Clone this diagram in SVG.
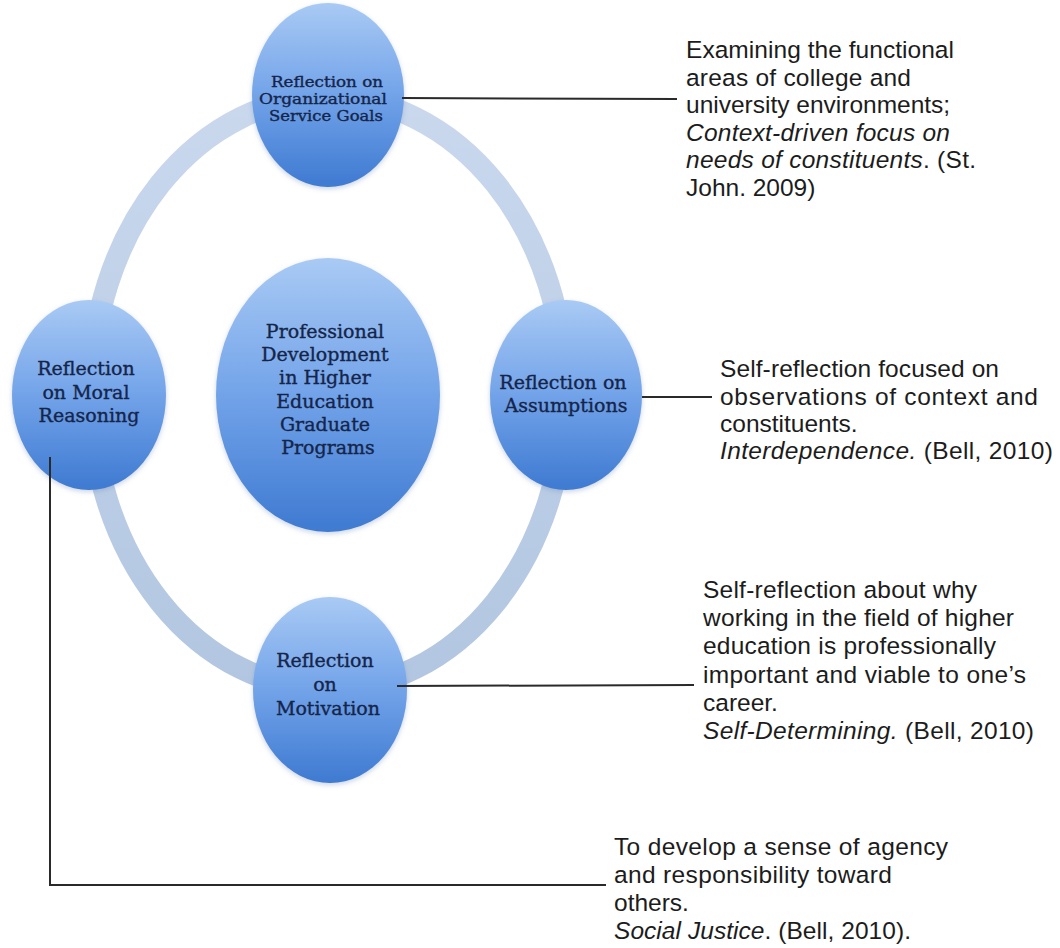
<svg xmlns="http://www.w3.org/2000/svg" width="1060" height="948" viewBox="0 0 1060 948">
  <defs>
    <linearGradient id="bubble" x1="0" y1="0" x2="0" y2="1">
      <stop offset="0" stop-color="#a9caf4"/>
      <stop offset="0.5" stop-color="#72a3e9"/>
      <stop offset="1" stop-color="#3e7ad1"/>
    </linearGradient>
    <linearGradient id="ringFill" x1="0" y1="0" x2="0" y2="1">
      <stop offset="0" stop-color="#c9d8ed"/>
      <stop offset="1" stop-color="#b2c6e1"/>
    </linearGradient>
    <filter id="soft" x="-10%" y="-10%" width="120%" height="120%">
      <feGaussianBlur in="SourceAlpha" stdDeviation="2.5"/>
      <feOffset dy="1.5" result="b"/>
      <feFlood flood-color="#6a86b0" flood-opacity="0.35"/>
      <feComposite in2="b" operator="in"/>
      <feMerge><feMergeNode/><feMergeNode in="SourceGraphic"/></feMerge>
    </filter>
  </defs>
  <style>
    .node ellipse { fill: url(#bubble); filter: url(#soft); }
    .label { font-family: "DejaVu Serif", "Liberation Serif", serif; fill: #15254a; stroke: #15254a; stroke-width: 0.35; text-anchor: middle; }
    .note { font-family: "Liberation Sans", Arial, sans-serif; font-size: 24.5px; fill: #1c1c1c; }
    .note .it { font-style: italic; }
    .link { fill: none; stroke: #2a2a2a; stroke-width: 2; }
  </style>

  <rect width="1060" height="948" fill="#ffffff"/>

  <!-- cycle ring behind the bubbles -->
  <ellipse id="ring" cx="328" cy="393" rx="237" ry="296" fill="none" stroke="url(#ringFill)" stroke-width="22"/>

  <g id="node-center" class="node">
    <ellipse cx="328" cy="395" rx="112" ry="137"/>
    <text class="label" font-size="19">
      <tspan x="328" y="338">Professional</tspan>
      <tspan x="328" y="361">Development</tspan>
      <tspan x="328" y="384">in Higher</tspan>
      <tspan x="328" y="408">Education</tspan>
      <tspan x="328" y="431">Graduate</tspan>
      <tspan x="328" y="454">Programs</tspan>
    </text>
  </g>

  <g id="node-top" class="node">
    <ellipse cx="328" cy="95" rx="76" ry="92"/>
    <text class="label" font-size="14.5" x="327" y="87" textLength="112" lengthAdjust="spacingAndGlyphs">Reflection on</text>
    <text class="label" font-size="14.5" x="323" y="104" textLength="128" lengthAdjust="spacingAndGlyphs">Organizational</text>
    <text class="label" font-size="14.5" x="326" y="121" textLength="114" lengthAdjust="spacingAndGlyphs">Service Goals</text>
  </g>

  <g id="node-left" class="node">
    <ellipse cx="89" cy="395" rx="77" ry="95"/>
    <text class="label" font-size="19">
      <tspan x="89" y="375">Reflection</tspan>
      <tspan x="89" y="399">on Moral</tspan>
      <tspan x="89" y="422">Reasoning</tspan>
    </text>
  </g>

  <g id="node-right" class="node">
    <ellipse cx="566" cy="395" rx="76" ry="95"/>
    <text class="label" font-size="19">
      <tspan x="566" y="389">Reflection on</tspan>
      <tspan x="566" y="412">Assumptions</tspan>
    </text>
  </g>

  <g id="node-bottom" class="node">
    <ellipse cx="330" cy="690" rx="77" ry="93"/>
    <text class="label" font-size="19">
      <tspan x="328" y="667">Reflection</tspan>
      <tspan x="328" y="691">on</tspan>
      <tspan x="328" y="715">Motivation</tspan>
    </text>
  </g>

  <!-- callout lines -->
  <g id="connectors">
    <path class="link" d="M402 98 L677 99"/>
    <path class="link" d="M642 397 L712 397"/>
    <path class="link" d="M397 686 L694 685"/>
    <path class="link" d="M50 457 L50 885 L606 885"/>
  </g>

  <g id="note-goals" class="note">
    <text x="686" y="58" textLength="268" lengthAdjust="spacing">Examining the functional</text>
    <text x="686" y="85.5" textLength="225" lengthAdjust="spacing">areas of college and</text>
    <text x="686" y="113">university environments;</text>
    <text x="686" y="140.5" class="it" textLength="264" lengthAdjust="spacing">Context-driven focus on</text>
    <text x="686" y="168" textLength="290" lengthAdjust="spacing"><tspan class="it">needs of constituents</tspan>. (St.</text>
    <text x="686" y="195.5">John. 2009)</text>
  </g>

  <g id="note-assumptions" class="note">
    <text x="720" y="377" textLength="279" lengthAdjust="spacing">Self-reflection focused on</text>
    <text x="720" y="405" textLength="318" lengthAdjust="spacing">observations of context and</text>
    <text x="720" y="432">constituents.</text>
    <text x="720" y="459" textLength="333" lengthAdjust="spacing"><tspan class="it">Interdependence.</tspan>  (Bell, 2010)</text>
  </g>

  <g id="note-motivation" class="note">
    <text x="703" y="598" textLength="274" lengthAdjust="spacing">Self-reflection about why</text>
    <text x="703" y="626" textLength="311" lengthAdjust="spacing">working in the field of higher</text>
    <text x="703" y="654" textLength="293" lengthAdjust="spacing">education is professionally</text>
    <text x="703" y="683" textLength="323" lengthAdjust="spacing">important and viable to one’s</text>
    <text x="703" y="711">career.</text>
    <text x="703" y="739" textLength="331" lengthAdjust="spacing"><tspan class="it">Self-Determining.</tspan>  (Bell, 2010)</text>
  </g>

  <g id="note-moral" class="note">
    <text x="614" y="855" textLength="334" lengthAdjust="spacing">To develop a sense of agency</text>
    <text x="614" y="883" textLength="278" lengthAdjust="spacing">and responsibility toward</text>
    <text x="614" y="911">others.</text>
    <text x="614" y="939" textLength="297" lengthAdjust="spacing"><tspan class="it">Social Justice</tspan>. (Bell, 2010).</text>
  </g>
</svg>
